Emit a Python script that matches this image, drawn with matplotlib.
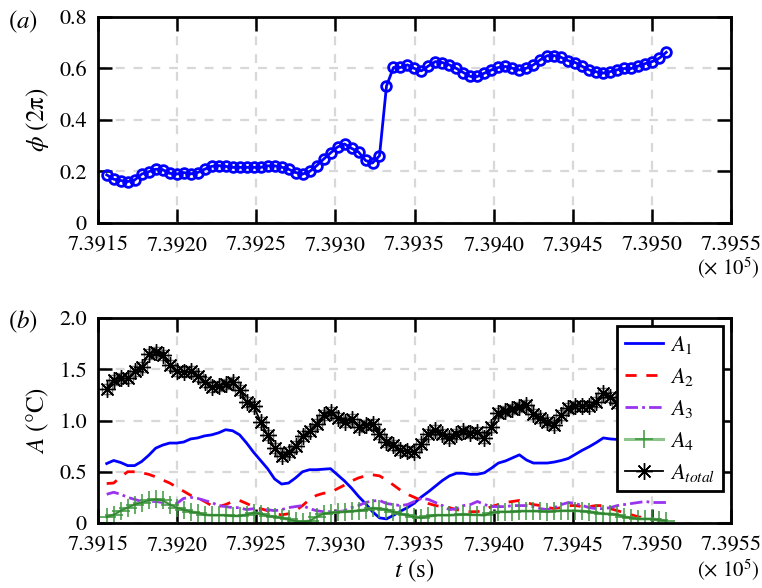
import numpy as np
import matplotlib
matplotlib.use("Agg")
import matplotlib.pyplot as plt

plt.rcParams['font.family'] = ['STIXGeneral', 'DejaVu Serif']
plt.rcParams['mathtext.fontset'] = 'stix'

# ---- data ----
t_start = 739155.5   # s
t_step = 4.42        # s
n_pts = 81
t = t_start + t_step * np.arange(n_pts)

phi = [0.187, 0.17, 0.165, 0.161, 0.167, 0.19, 0.199, 0.209, 0.207, 0.193,
       0.19, 0.196, 0.191, 0.196, 0.209, 0.22, 0.223, 0.22, 0.216, 0.216,
       0.216, 0.216, 0.216, 0.222, 0.222, 0.217, 0.209, 0.196, 0.19, 0.2,
       0.222, 0.248, 0.272, 0.295, 0.307, 0.29, 0.276, 0.243, 0.233, 0.261,
       0.532, 0.604, 0.604, 0.614, 0.6, 0.591, 0.61, 0.627, 0.623, 0.614,
       0.6, 0.584, 0.569, 0.569, 0.582, 0.594, 0.604, 0.608, 0.601, 0.594,
       0.601, 0.614, 0.634, 0.65, 0.65, 0.643, 0.63, 0.623, 0.608, 0.594,
       0.587, 0.582, 0.588, 0.595, 0.6, 0.6, 0.61, 0.619, 0.627, 0.64, 0.663]

A1 = [0.58, 0.61, 0.59, 0.56, 0.56, 0.60, 0.66, 0.73, 0.76, 0.78,
      0.78, 0.79, 0.82, 0.83, 0.85, 0.86, 0.88, 0.91, 0.90, 0.86,
      0.78, 0.69, 0.61, 0.53, 0.43, 0.38, 0.39, 0.44, 0.50, 0.52,
      0.52, 0.525, 0.53, 0.47, 0.41, 0.34, 0.26, 0.19, 0.11, 0.05,
      0.04, 0.075, 0.115, 0.15, 0.195, 0.255, 0.305, 0.36, 0.415, 0.46,
      0.485, 0.485, 0.475, 0.475, 0.49, 0.535, 0.585, 0.605, 0.635, 0.665,
      0.615, 0.585, 0.585, 0.585, 0.595, 0.61, 0.63, 0.67, 0.71, 0.745,
      0.785, 0.83, 0.82, 0.815, 0.815, 0.81, 0.80, 0.80, 0.80, 0.81, 0.82]

A2 = [0.385, 0.39, 0.45, 0.50, 0.50, 0.49, 0.475, 0.45, 0.42, 0.39,
      0.35, 0.31, 0.27, 0.245, 0.21, 0.17, 0.16, 0.18, 0.21, 0.22,
      0.19, 0.16, 0.14, 0.12, 0.09, 0.08, 0.09, 0.12, 0.17, 0.23,
      0.27, 0.29, 0.30, 0.335, 0.37, 0.41, 0.44, 0.46, 0.47, 0.46,
      0.42, 0.37, 0.32, 0.28, 0.25, 0.22, 0.19, 0.17, 0.16, 0.15,
      0.13, 0.12, 0.11, 0.11, 0.13, 0.16, 0.18, 0.20, 0.21, 0.22,
      0.20, 0.18, 0.17, 0.15, 0.14, 0.15, 0.17, 0.17, 0.16, 0.16,
      0.17, 0.17, 0.14, 0.12, 0.10, 0.08, 0.06, 0.05, 0.035, 0.03, 0.05]

A3 = [0.28, 0.30, 0.28, 0.25, 0.23, 0.21, 0.21, 0.21, 0.20, 0.18,
      0.19, 0.24, 0.25, 0.24, 0.22, 0.20, 0.17, 0.16, 0.15, 0.15,
      0.13, 0.14, 0.12, 0.13, 0.12, 0.13, 0.15, 0.16, 0.17, 0.14,
      0.12, 0.11, 0.11, 0.11, 0.12, 0.15, 0.17, 0.20, 0.215, 0.22,
      0.19, 0.18, 0.17, 0.18, 0.21, 0.24, 0.23, 0.20, 0.17, 0.13,
      0.14, 0.17, 0.18, 0.21, 0.18, 0.16, 0.16, 0.16, 0.17, 0.17,
      0.17, 0.16, 0.14, 0.13, 0.15, 0.18, 0.20, 0.19, 0.17, 0.15,
      0.14, 0.14, 0.15, 0.17, 0.18, 0.19, 0.20, 0.21, 0.20, 0.20, 0.20]

A4 = [0.06, 0.08, 0.12, 0.15, 0.18, 0.20, 0.22, 0.23, 0.22, 0.18,
      0.15, 0.13, 0.11, 0.10, 0.08, 0.075, 0.075, 0.075, 0.07, 0.07,
      0.08, 0.10, 0.09, 0.07, 0.06, 0.05, 0.035, 0.02, 0.01, 0.02,
      0.06, 0.09, 0.10, 0.105, 0.11, 0.115, 0.12, 0.13, 0.145, 0.14,
      0.13, 0.11, 0.09, 0.075, 0.06, 0.05, 0.065, 0.075, 0.075, 0.075,
      0.08, 0.085, 0.08, 0.08, 0.075, 0.10, 0.11, 0.11, 0.11, 0.115,
      0.115, 0.115, 0.115, 0.11, 0.115, 0.12, 0.12, 0.12, 0.115, 0.11,
      0.10, 0.09, 0.09, 0.08, 0.06, 0.05, 0.04, 0.04, 0.04, 0.03, 0.02]

A_total = [1.31, 1.40, 1.41, 1.41, 1.48, 1.52, 1.65, 1.67, 1.64, 1.54,
           1.48, 1.47, 1.48, 1.43, 1.38, 1.33, 1.34, 1.36, 1.38, 1.30,
           1.18, 1.14, 0.99, 0.86, 0.73, 0.65, 0.69, 0.75, 0.85, 0.90,
           0.97, 1.05, 1.08, 1.02, 0.99, 1.01, 0.94, 0.96, 0.97, 0.87,
           0.79, 0.76, 0.71, 0.70, 0.69, 0.77, 0.87, 0.91, 0.87, 0.83,
           0.87, 0.90, 0.88, 0.89, 0.83, 0.94, 1.07, 1.09, 1.11, 1.13,
           1.15, 1.06, 1.02, 0.99, 0.96, 1.05, 1.12, 1.14, 1.14, 1.14,
           1.18, 1.27, 1.23, 1.17, 1.15, 1.14, 1.12, 1.10, 1.08, 1.06, 1.05]

xticks = np.arange(739150, 739551, 50)
xtick_labels = [f"{v/1e5:.4f}" for v in xticks]
phi_ticks = [0, 0.2, 0.4, 0.6, 0.8]
phi_tick_labels = ["0", "0.2", "0.4", "0.6", "0.8"]
A_ticks = [0, 0.5, 1.0, 1.5, 2.0]
A_tick_labels = ["0", "0.5", "1.0", "1.5", "2.0"]

# ---- figure ----
W, H = 762, 588
fig = plt.figure(figsize=(W / 100, H / 100), dpi=100)

def ax_rect(l, t_, r, b):
    return [l / W, 1 - b / H, (r - l) / W, (b - t_) / H]

ax1 = fig.add_axes(ax_rect(98, 17, 731, 223))
ax2 = fig.add_axes(ax_rect(98, 318, 731, 523))

def style(ax):
    for s in ax.spines.values():
        s.set_linewidth(2.0)
    ax.tick_params(direction='in', length=10, width=1.8, top=True, right=True,
                   labelsize=16)
    ax.tick_params(axis='x', pad=9)
    ax.tick_params(axis='y', pad=8)
    ax.grid(True, color='#d8d8d8', linestyle=(0, (4, 4)), linewidth=1.6)
    ax.set_axisbelow(True)
    ax.set_xlim(739150, 739550)
    ax.set_xticks(xticks)
    ax.set_xticklabels(xtick_labels)

style(ax1)
style(ax2)

ax1.plot(t, phi, color='#0000ff', lw=2, marker='o', ms=7, mfc='none', mew=2)
ax1.set_ylim(0, 0.8)
ax1.set_yticks(phi_ticks)
ax1.set_yticklabels(phi_tick_labels)
ax1.set_ylabel(r'$\phi$ (2π)', fontsize=18, labelpad=6)

ax2.plot(t, A_total, color='#777777', lw=0, marker='s', ms=7, mfc='none', mew=1.0)
ax2.plot(t, A1, color='#0000ff', lw=2, label=r'$A_1$')
ax2.plot(t, A2, color='#ff0000', lw=2, ls=(0, (4, 3.5)), label=r'$A_2$')
ax2.plot(t, A3, color='#9933ee', lw=2, ls=(0, (4.5, 1.5, 1, 1.5)), label=r'$A_3$')
ax2.plot(t, A4, color='#8cc48c', lw=2.2, marker='+', ms=13, mec='#3c963c', mew=1.1,
         label=r'$A_4$')
ax2.plot(t, A4, color='#2f7f2f', lw=0.9)
ax2.plot(t, A_total, color='black', lw=1.3, marker=(8, 2, 0), ms=12, mew=1.0,
         label=r'$A_{total}$')
ax2.set_ylim(0, 2.0)
ax2.set_yticks(A_ticks)
ax2.set_yticklabels(A_tick_labels)
ax2.set_ylabel(r'$A$ ($\degree$C)', fontsize=18, labelpad=6)
ax2.set_xlabel(r'$t$ (s)', fontsize=18, labelpad=2)

leg = ax2.legend(loc='upper right', fontsize=16, frameon=True, fancybox=False,
                 edgecolor='black', framealpha=1, borderaxespad=0.35,
                 handlelength=1.75, labelspacing=0.45, borderpad=0.35,
                 handletextpad=0.3)
leg.get_frame().set_linewidth(2)

fig.text(8 / W, 1 - 22 / H, r'($a$)', fontsize=18, va='center', ha='left')
fig.text(8 / W, 1 - 322 / H, r'($b$)', fontsize=18, va='center', ha='left')
fig.text(760 / W, 1 - 268 / H, r'($\times$ 10$^5$)', fontsize=15, va='center', ha='right')
fig.text(760 / W, 1 - 570 / H, r'($\times$ 10$^5$)', fontsize=15, va='center', ha='right')

fig.savefig('out.png', dpi=100)
